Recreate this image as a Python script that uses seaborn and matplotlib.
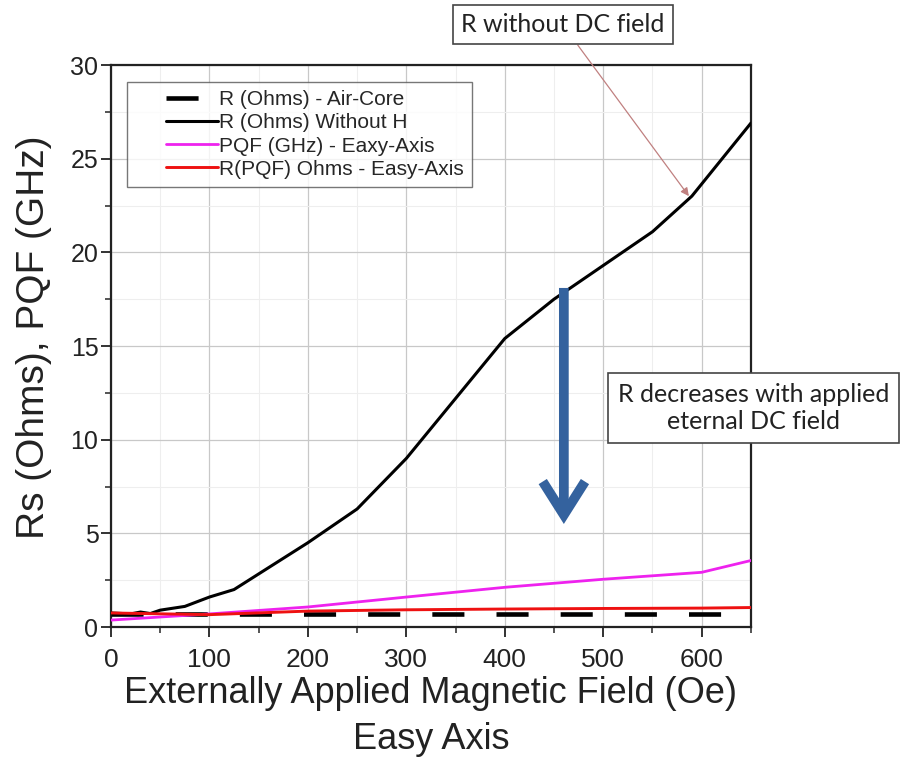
import matplotlib
matplotlib.use("Agg")
import matplotlib.pyplot as plt
from matplotlib.ticker import MultipleLocator
from matplotlib.legend_handler import HandlerLine2D
import seaborn as sns
import pandas as pd

# Field values (Oe) and measured curves
field_without_h = [0, 20, 30, 40, 50, 75, 100, 125, 200, 250, 300, 350, 400, 450, 500, 550, 590, 650]
r_without_h = [0.75, 0.7, 0.8, 0.72, 0.9, 1.1, 1.6, 2.0, 4.5, 6.3, 9.0, 12.2, 15.4, 17.5, 19.3, 21.1, 23.0, 26.9]

field_easy = [0, 100, 200, 300, 400, 500, 600, 650]
pqf_easy = [0.37, 0.7, 1.07, 1.6, 2.12, 2.55, 2.92, 3.55]
r_pqf_easy = [0.75, 0.66, 0.85, 0.92, 0.96, 0.99, 1.01, 1.04]

field_air = [0, 650]
r_air = [0.7, 0.7]

series_names = ["R (Ohms) - Air-Core", "R (Ohms) Without H",
                "PQF (GHz) - Eaxy-Axis", "R(PQF) Ohms - Easy-Axis"]

x_ticks = [0, 100, 200, 300, 400, 500, 600]
y_ticks = [0, 5, 10, 15, 20, 25, 30]

df = pd.concat([
    pd.DataFrame({"H": field_air, "v": r_air, "s": series_names[0]}),
    pd.DataFrame({"H": field_without_h, "v": r_without_h, "s": series_names[1]}),
    pd.DataFrame({"H": field_easy, "v": pqf_easy, "s": series_names[2]}),
    pd.DataFrame({"H": field_easy, "v": r_pqf_easy, "s": series_names[3]}),
])


class IndentedLineHandler(HandlerLine2D):
    """Legend line sample that starts part-way into the handle box."""

    def __init__(self, indent=0.37, **kw):
        super().__init__(**kw)
        self.indent = indent

    def get_xdata(self, legend, xdescent, ydescent, width, height, fontsize):
        start = -xdescent + self.indent * width
        return [start, -xdescent + width], [-xdescent + 0.5 * width]


sns.set_style("white")
plt.rcParams["font.family"] = ["Liberation Sans", "DejaVu Sans"]

fig = plt.figure(figsize=(9.08, 7.57), dpi=100)
ax = fig.add_axes([0.1222, 0.1717, 0.7048, 0.7424])

palette = {series_names[0]: "black", series_names[1]: "black",
           series_names[2]: "#ee22ee", series_names[3]: "#ee1111"}
widths = {series_names[0]: 3.3, series_names[1]: 2.2,
          series_names[2]: 2.0, series_names[3]: 2.1}

for name in series_names:
    sub = df[df["s"] == name]
    kw = {}
    if name == series_names[0]:
        kw["dashes"] = (7.0, 7.0)
    sns.lineplot(data=sub, x="H", y="v", ax=ax, color=palette[name],
                 lw=widths[name], label=name, zorder=3, **kw)

ax.set_xlim(0, 650)
ax.set_ylim(0, 30)
ax.set_xticks(x_ticks)
ax.set_yticks(y_ticks)
ax.xaxis.set_minor_locator(MultipleLocator(50))
ax.yaxis.set_minor_locator(MultipleLocator(2.5))
ax.grid(which="major", color="#c8c8c8", lw=0.9)
ax.grid(which="minor", color="#eeeeee", lw=0.8)
ax.set_axisbelow(True)
for sp in ax.spines.values():
    sp.set_color("#222222")
    sp.set_linewidth(1.6)
ax.tick_params(which="major", direction="out", length=7, width=1.3,
               colors="#222222", left=True, bottom=True)
ax.tick_params(which="minor", direction="out", length=4, width=1.1,
               left=True, bottom=True)
ax.tick_params(axis="x", which="major", labelsize=19, pad=8)
ax.tick_params(axis="y", which="major", labelsize=18, pad=2)

ax.set_xlabel("Externally Applied Magnetic Field (Oe)\nEasy Axis",
              fontsize=26, color="#222222", labelpad=3, linespacing=1.4)
ax.set_ylabel("Rs (Ohms), PQF (GHz)", fontsize=28, color="#222222")
ax.yaxis.set_label_coords(-0.092, 0.516)

handles, labels = ax.get_legend_handles_labels()
leg = ax.legend(handles, labels, loc="upper left", bbox_to_anchor=(0.025, 0.97),
                fontsize=15, frameon=True, fancybox=False, edgecolor="#555555",
                handlelength=3.95, borderpad=0.4, labelspacing=0.2,
                handletextpad=0.08, borderaxespad=0,
                handler_map={h: IndentedLineHandler() for h in handles})
leg.get_frame().set_linewidth(1.0)

# Annotation callout with thin arrow toward the un-biased resistance curve
callout_font = ["Lato", "DejaVu Sans"]
ax.annotate("R without DC field", xy=(587, 23.0), xycoords="data",
            xytext=(0.620, 0.967), textcoords="figure fraction",
            ha="center", va="center", fontsize=18, family=callout_font,
            color="#222222",
            bbox=dict(boxstyle="square,pad=0.32", fc="white", ec="#444444", lw=1.2),
            arrowprops=dict(arrowstyle="-|>", color="#c08080", lw=0.9,
                            mutation_scale=12, shrinkA=0, shrinkB=0))

# Thick blue arrow marking the drop in resistance
ax.annotate("", xy=(460, 5.5), xytext=(460, 18.1), xycoords="data",
            arrowprops=dict(arrowstyle="->,head_length=0.6,head_width=0.38",
                            color="#34629e", lw=7, mutation_scale=40,
                            shrinkA=0, shrinkB=0, capstyle="butt",
                            joinstyle="miter"), zorder=5)

fig.text(0.830, 0.461, "R decreases with applied\neternal DC field",
         ha="center", va="center", fontsize=18, family=callout_font,
         color="#222222", linespacing=1.2,
         bbox=dict(boxstyle="square,pad=0.4", fc="white", ec="#444444", lw=1.2))

fig.savefig("out.png", dpi=100, facecolor="white")
